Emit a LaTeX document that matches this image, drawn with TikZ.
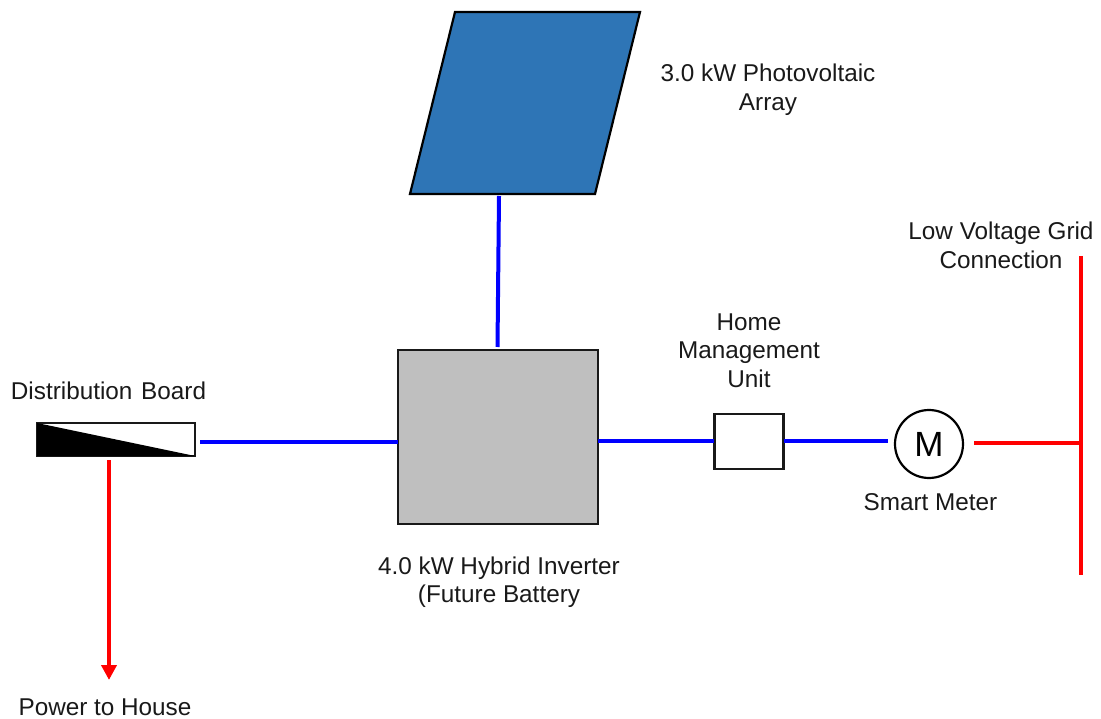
\documentclass[tikz,border=0pt]{standalone}
\usepackage{fontspec}
\setmainfont{Liberation Sans}
\usetikzlibrary{arrows.meta}
\definecolor{pvblue}{HTML}{2E75B6}
\definecolor{invgrey}{HTML}{BFBFBF}
\tikzset{
  x=1pt,y=-1pt,
  lbl/.style={inner sep=0pt,align=center,font=\fontsize{24.3}{28.5}\selectfont,text=black!90},
  box/.style={draw=black!90,line width=2.5pt,inner sep=0pt,outer sep=0pt},
  dcline/.style={draw=blue,line width=4pt},
  acline/.style={draw=red,line width=4pt},
}
\begin{document}
\begin{tikzpicture}
\useasboundingbox (0,0) rectangle (1101,719);
% PV array
\coordinate (pvA) at (455,12);
\coordinate (pvB) at (640,12);
\coordinate (pvC) at (595,194);
\coordinate (pvD) at (410,194);
\draw[fill=pvblue,draw=black,line width=2.2pt,line join=miter] (pvA) -- (pvB) -- (pvC) -- (pvD) -- cycle;
\coordinate (pvOut) at (499,196);
% Inverter
\node[box,fill=invgrey,minimum width=200pt,minimum height=174pt] (inv) at (498,437) {};
\coordinate (invTop) at (497.5,347);
% Distribution board
\node[box,fill=white,minimum width=158pt,minimum height=33pt] (db) at (116,439.5) {};
\fill[black] (db.north west) -- (db.south east) -- (db.south west) -- cycle;
\coordinate (dbOut) at (200,442);
\coordinate (dbDown) at (109,460);
\coordinate (house) at (109,680);
% Home management unit
\node[box,fill=white,minimum width=69pt,minimum height=55pt] (hmu) at (749,441.5) {};
% Meter
\node[circle,draw=black,line width=2.2pt,minimum size=68pt,inner sep=0pt,font=\fontsize{35}{35}\selectfont] (meter) at (929,444) {M};
\coordinate (mIn) at (888,441);
\coordinate (mOut) at (974,443);
% Grid bus
\coordinate (busTop) at (1081,256);
\coordinate (busBot) at (1081,575);
\coordinate (busTap) at (1081,443);
\coordinate (invRight) at (598,441);
\coordinate (hmuLeft) at (714,441);
\coordinate (hmuRight) at (784,441);
% Connectors
\draw[dcline] (pvOut) -- (invTop);
\draw[dcline] (dbOut) -- (inv.west |- dbOut);
\draw[dcline] (invRight) -- (hmuLeft);
\draw[dcline] (hmuRight) -- (mIn);
\draw[acline] (mOut) -- (busTap);
\draw[acline] (busTop) -- (busBot);
\draw[acline,-{Triangle[length=15pt,width=15pt]}] (dbDown) -- (house);
% Labels
\node[lbl] (tpv) at (768,89.5) {3.0 kW Photovoltaic\\Array};
\node[lbl] (tgrid) at (1001,245.5) {Low Voltage Grid\\Connection};
\node[lbl] (thmu) at (749,350.5) {Home\\Management\\Unit};
\node[lbl] (tdb) at (108.5,391) {Distribution\hspace{2pt} Board};
\node[lbl] (tmeter) at (930.5,502) {Smart Meter};
\node[lbl] (tinv) at (499,582) {4.0 kW Hybrid Inverter\\(Future Battery};
\node[lbl] (thouse) at (105,707) {Power to House};
\end{tikzpicture}
\end{document}
